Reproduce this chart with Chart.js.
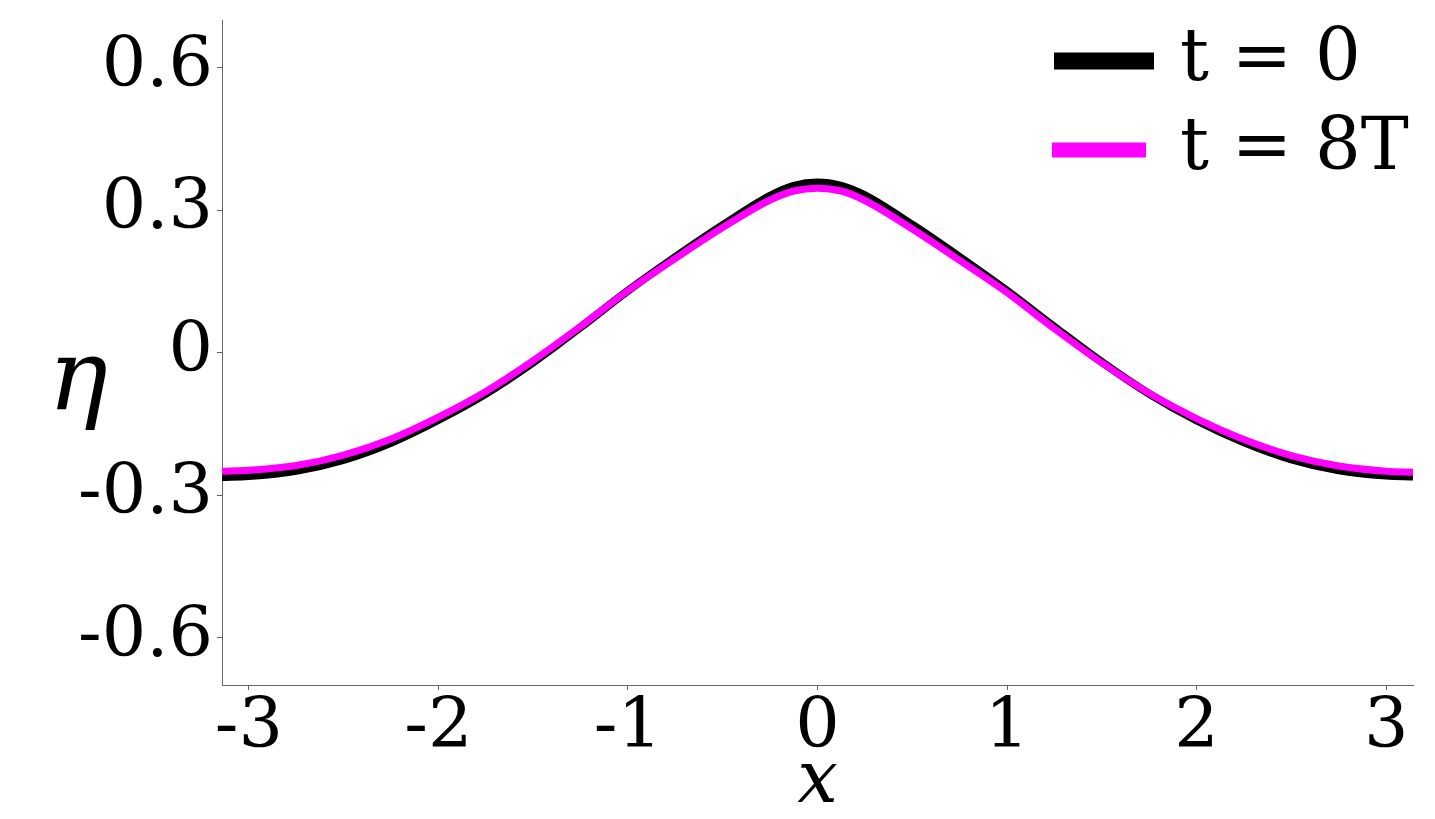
<!DOCTYPE html>
<html>
<head>
<meta charset="utf-8">
<script src="https://cdn.jsdelivr.net/npm/chart.js"></script>
<style>
  html, body { margin: 0; padding: 0; background: #fff; }
  #wrap { width: 1435px; height: 819px; position: relative; }
</style>
</head>
<body>
<div id="wrap"><canvas id="chart"></canvas></div>
<script>
// values
const xs = [-3.1416, -3, -2.75, -2.5, -2.25, -2, -1.75, -1.5, -1.25, -1, -0.75, -0.5, -0.25, -0.125, 0,
            0.125, 0.25, 0.5, 0.75, 1, 1.25, 1.5, 1.75, 2, 2.25, 2.5, 2.75, 3, 3.1416];
const etaStart = [-0.262, -0.260, -0.249, -0.226, -0.190, -0.142, -0.087, -0.021, 0.053, 0.130, 0.201, 0.268, 0.330, 0.351, 0.358,
                  0.351, 0.331, 0.269, 0.201, 0.130, 0.054, -0.020, -0.087, -0.143, -0.189, -0.225, -0.248, -0.259, -0.261];
const etaEnd = [-0.250, -0.248, -0.238, -0.216, -0.182, -0.136, -0.082, -0.017, 0.055, 0.130, 0.198, 0.263, 0.321, 0.340, 0.346,
                0.340, 0.320, 0.260, 0.194, 0.126, 0.050, -0.022, -0.086, -0.139, -0.183, -0.217, -0.239, -0.250, -0.252];
const seriesLabels = ["t = 0", "t = 8T"];
const seriesColors = ["#000000", "#ff00ff"];
const xTicks = [-3, -2, -1, 0, 1, 2, 3];
const yTicks = [-0.6, -0.3, 0, 0.3, 0.6];
const yTickLabels = ["-0.6", "-0.3", "0", "0.3", "0.6"];

const serif = "'DejaVu Serif', serif";

// legend and the upright eta label, drawn on the canvas
const extras = {
    id: "extras",
    afterDraw(chart) {
        const ctx = chart.ctx;
        ctx.save();
        const rows = [{ y: 61, x0: 1054, x1: 1154, h: 17 }, { y: 150, x0: 1052, x1: 1146, h: 15 }];
        chart.data.datasets.forEach((ds, i) => {
            const r = rows[i];
            ctx.fillStyle = ds.borderColor;
            ctx.fillRect(r.x0, r.y - r.h / 2, r.x1 - r.x0, r.h);
            ctx.fillStyle = "#000";
            ctx.font = "72px " + serif;
            ctx.textBaseline = "middle";
            ctx.textAlign = "left";
            ctx.fillText(ds.label, 1180, r.y);
        });
        ctx.font = "italic 100px " + serif;
        ctx.textAlign = "center";
        ctx.textBaseline = "middle";
        ctx.fillText("\u03b7", 78, 383);
        ctx.restore();
    }
};

const noPad = s => { s.paddingTop = 0; s.paddingBottom = 0; s.paddingLeft = 0; s.paddingRight = 0; };

new Chart(document.getElementById("chart"), {
    type: "line",
    data: {
        datasets: [
            {
                label: seriesLabels[0],
                data: xs.map((x, i) => ({ x: x, y: etaStart[i] })),
                borderColor: seriesColors[0],
                borderWidth: 8,
                order: 1
            },
            {
                label: seriesLabels[1],
                data: xs.map((x, i) => ({ x: x, y: etaEnd[i] })),
                borderColor: seriesColors[1],
                borderWidth: 7,
                order: 0
            }
        ]
    },
    plugins: [extras],
    options: {
        responsive: true,
        maintainAspectRatio: false,
        animation: false,
        layout: { padding: { left: 0, right: 22, top: 20, bottom: 0 } },
        elements: {
            point: { radius: 0 },
            line: { cubicInterpolationMode: "monotone", borderCapStyle: "butt" }
        },
        plugins: {
            legend: { display: false },
            tooltip: { enabled: false }
        },
        scales: {
            x: {
                type: "linear",
                min: -Math.PI,
                max: Math.PI,
                afterBuildTicks: s => { s.ticks = xTicks.map(v => ({ value: v })); },
                afterFit: s => { s.height = 134; noPad(s); },
                grid: { drawOnChartArea: false, drawTicks: true, tickLength: 5, color: "#666" },
                border: { display: true, color: "#666", width: 1 },
                ticks: { color: "#000", font: { family: serif, size: 70 }, padding: -3, maxRotation: 0,
                         callback: v => String(v) },
                title: { display: true, text: "x", color: "#000", padding: 0,
                         font: { family: serif, size: 72, style: "italic", lineHeight: 1 } }
            },
            y: {
                type: "linear",
                min: -0.7,
                max: 0.7,
                afterBuildTicks: s => { s.ticks = yTicks.map(v => ({ value: v })); },
                afterFit: s => { s.width = 222; noPad(s); },
                grid: { drawOnChartArea: false, drawTicks: true, tickLength: 5, color: "#666" },
                border: { display: true, color: "#666", width: 1 },
                ticks: { color: "#000", font: { family: serif, size: 70 }, padding: 4,
                         callback: v => yTickLabels[yTicks.indexOf(v)] }
            }
        }
    }
});
</script>
</body>
</html>
